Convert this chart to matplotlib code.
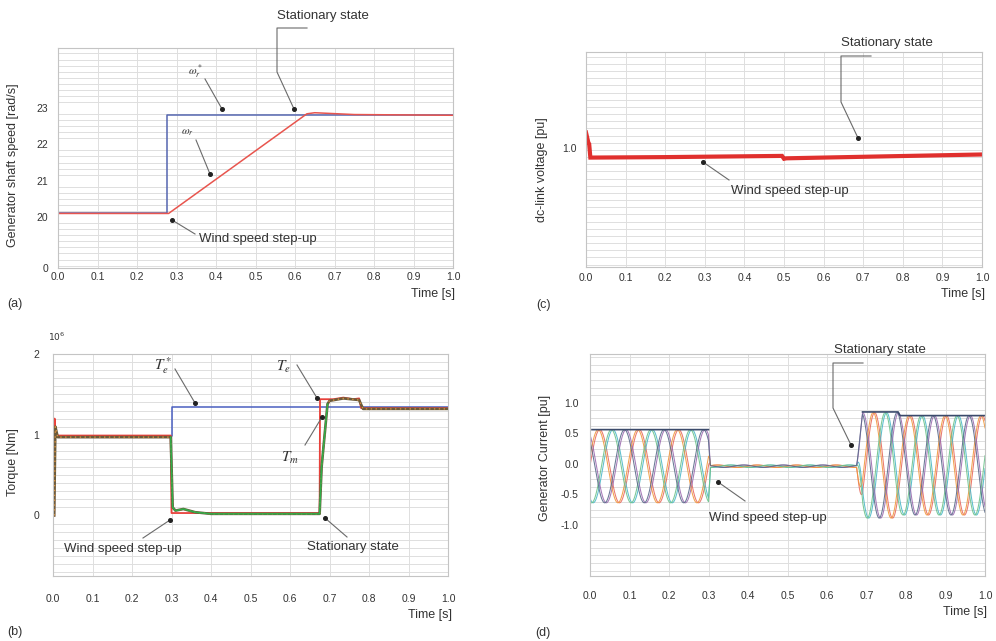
import numpy as np
import matplotlib
matplotlib.use("Agg")
import matplotlib.pyplot as plt
from matplotlib.lines import Line2D
from matplotlib.ticker import MultipleLocator

plt.rcParams['font.family'] = ['Liberation Sans', 'DejaVu Sans']

# ---- (a) generator shaft speed [rad/s]
t_wref = [0.0, 0.277, 0.277, 1.0]
w_ref = [20.1, 20.1, 22.8, 22.8]
t_wr = [0.0, 0.28, 0.63, 0.65, 0.75, 1.0]
w_r = [20.1, 20.1, 22.84, 22.87, 22.82, 22.8]

# ---- (c) dc-link voltage [pu]
t_dc = [0.0, 0.006, 0.008, 0.011, 0.2, 0.495, 0.5, 0.506, 0.75, 1.0]
v_dc = [1.063, 1.02, 1.015, 0.958, 0.96, 0.965, 0.953, 0.955, 0.963, 0.971]

# ---- (b) torque [x10^6 Nm]
t_teref = [0.0, 0.3, 0.3, 1.0]
te_ref = [0.99, 0.99, 1.34, 1.34]
t_te = [0.003, 0.004, 0.006, 0.012, 0.298, 0.300, 0.675, 0.676, 0.71, 0.735, 0.76, 0.775, 0.78, 1.0]
te = [0.0, 1.2, 1.05, 0.99, 0.99, 0.03, 0.03, 1.44, 1.44, 1.46, 1.44, 1.45, 1.33, 1.33]
t_tm = [0.003, 0.006, 0.012, 0.298, 0.303, 0.31, 0.33, 0.36, 0.40, 0.675, 0.68, 0.695, 0.70,
        0.735, 0.775, 0.785, 1.0]
tm = [0.0, 1.1, 0.97, 0.97, 0.1, 0.06, 0.08, 0.04, 0.02, 0.02, 0.6, 1.38, 1.42, 1.45, 1.43,
      1.32, 1.32]

# ---- (d) generator currents [pu]: envelope
t_env = [0.0, 0.3, 0.305, 0.675, 0.69, 0.78, 0.79, 1.0]
amp_env = [0.60, 0.60, 0.02, 0.02, 0.865, 0.865, 0.815, 0.815]
off_env = [-0.04, -0.04, -0.04, -0.04, -0.025, -0.025, -0.025, -0.025]
freq_seg = [10.0, 10.0, 11.0]          # Hz for segments split at t_split
t_split = [0.3, 0.68]
phase_deg = [0, -120, 120, 15, -105, 135]
phase_colors = ['#e86a5e', '#4cb8c8', '#9b6bb0', '#f0983e', '#6cc28a', '#5a6a8a']
t_peak = [0.005, 0.3, np.nan, 0.69, 0.78, 0.785, 1.0]
i_peak = [0.56, 0.56, np.nan, 0.85, 0.85, 0.79, 0.79]

W, H = 996, 641
fig = plt.figure(figsize=(W / 100, H / 100), dpi=100)
TXT = '#333333'
GRID = '#dedede'


def px(x, y):
    return x / W, 1 - y / H


def make_ax(l, t, r, b):
    ax = fig.add_axes([l / W, 1 - b / H, (r - l) / W, (b - t) / H])
    for s in ax.spines.values():
        s.set_color('#c4c4c4')
        s.set_linewidth(0.8)
    ax.set_xlim(0, 1.0)
    ax.set_xticks(np.arange(0, 1.01, 0.1))
    ax.set_xticklabels([f'{v:.1f}' for v in np.arange(0, 1.01, 0.1)])
    ax.tick_params(which='both', length=0, labelsize=7.5, colors=TXT)
    ax.grid(True, which='major', axis='x', color=GRID, lw=0.7)
    ax.grid(True, which='minor', axis='y', color=GRID, lw=0.7)
    ax.set_axisbelow(True)
    return ax


def leader(points):
    xs, ys = zip(*[px(*p) for p in points])
    fig.add_artist(Line2D(xs, ys, color='#6a6a6a', lw=0.8))
    fig.add_artist(Line2D([xs[-1]], [ys[-1]], marker='o', ms=2.6, color='#222222', lw=0))


def label(x, y, s, size=9.5, **kw):
    x, y = px(x, y)
    fig.text(x, y, s, ha='center', va='center', fontsize=size, color=TXT, **kw)


# ----- panel (a)
ax = make_ax(58, 48, 453, 268)
ax.set_ylim(18.6, 24.65)
ax.set_yticks([18.6, 20, 21, 22, 23])
ax.set_yticklabels(['0', '20', '21', '22', '23'])
ax.yaxis.set_minor_locator(MultipleLocator(1 / 6))
ax.tick_params(axis='x', pad=3)
ax.tick_params(axis='y', pad=7)
ax.plot(t_wref, w_ref, color='#5566b0', lw=1.1)
ax.plot(t_wr, w_r, color='#e8554e', lw=1.1)

# ----- panel (c)
ax = make_ax(586, 52, 982, 267)
ax.set_ylim(0.5, 1.4)
ax.set_yticks([1.0])
ax.set_yticklabels(['1.0'])
ax.yaxis.set_minor_locator(MultipleLocator(0.03))
ax.tick_params(axis='x', pad=4)
ax.tick_params(axis='y', pad=7)
ax.plot(t_dc, v_dc, color='#e0302e', lw=3.0, solid_joinstyle='miter')

# ----- panel (b)
ax = make_ax(53, 354, 448, 576)
ax.set_ylim(-0.75, 2.0)
ax.set_yticks([0, 1, 2])
ax.set_yticklabels(['0', '1', '2'])
ax.yaxis.set_minor_locator(MultipleLocator(0.1))
ax.tick_params(axis='x', pad=13)
ax.tick_params(axis='y', pad=10)
ax.plot(t_teref, te_ref, color='#4a5fc0', lw=1.1)
ax.plot(t_te, te, color='#e8403a', lw=1.3)
ax.plot(t_tm, tm, color='#6b5a3a', lw=1.9)
ax.plot(t_tm, tm, color='#d9913e', lw=1.0, ls=(0, (1, 2.5)))
ax.plot(t_tm[3:12], tm[3:12], color='#2fae4a', lw=1.1)

# ----- panel (d)
ax = make_ax(590, 354, 985, 576)
ax.set_ylim(-1.84, 1.80)
ax.set_yticks([-1.0, -0.5, 0.0, 0.5, 1.0])
ax.set_yticklabels(['-1.0', '-0.5', '0.0', '0.5', '1.0'])
ax.yaxis.set_minor_locator(MultipleLocator(0.125))
ax.tick_params(axis='x', pad=11)
ax.tick_params(axis='y', pad=8)
t = np.linspace(0, 1, 4001)
amp = np.interp(t, t_env, amp_env)
off = np.interp(t, t_env, off_env)
f = np.select([t < t_split[0], t < t_split[1]], freq_seg[:2], freq_seg[2])
theta = 2 * np.pi * np.cumsum(f) * (t[1] - t[0])
for ph, c in zip(phase_deg, phase_colors):
    ax.plot(t, off + amp * np.sin(theta + np.radians(ph)), color=c, lw=0.75, alpha=0.9)
ax.plot(t_peak, i_peak, color='#3b4a6b', lw=1.2)

# ----- axis titles and annotations
label(13, 165, 'Generator shaft speed [rad/s]', 9, rotation=90)
label(542, 170, 'dc-link voltage [pu]', 9, rotation=90)
label(13, 462, 'Torque [Nm]', 9, rotation=90)
label(545, 458, 'Generator Current [pu]', 9, rotation=90)
for x, y in [(433, 294), (963, 294), (430, 615), (965, 612)]:
    label(x, y, 'Time [s]', 9)
for x, y, s in [(15, 304, '(a)'), (15, 632, '(b)'), (543, 305, '(c)'), (543, 633, '(d)')]:
    label(x, y, s, 9)
label(57, 337, r'$10^6$', 6.5)

# (a)
label(323, 16, 'Stationary state')
leader([(307, 28), (277, 28), (277, 72), (294, 109)])
label(195, 72, r'$\omega_r^*$', 8, math_fontfamily='stix')
leader([(205, 79), (222, 109)])
label(187, 133, r'$\omega_r$', 8, math_fontfamily='stix')
leader([(196, 140), (210, 174)])
label(258, 239, 'Wind speed step-up')
leader([(195, 234), (172, 220)])

# (c)
label(887, 43, 'Stationary state')
leader([(871, 56), (841, 56), (841, 102), (858, 138)])
label(790, 191, 'Wind speed step-up')
leader([(729, 180), (703, 162)])

# (b)
label(163, 366, r'$T_e^*$', 11, math_fontfamily='stix')
leader([(175, 369), (195, 403)])
label(283, 367, r'$T_e$', 11, math_fontfamily='stix')
leader([(297, 365), (317, 398)])
label(290, 458, r'$T_m$', 11, math_fontfamily='stix')
leader([(305, 445), (322, 417)])
label(123, 549, 'Wind speed step-up')
leader([(143, 538), (170, 520)])
label(353, 547, 'Stationary state')
leader([(347, 537), (325, 518)])

# (d)
label(880, 350, 'Stationary state')
leader([(863, 363), (833, 363), (833, 408), (851, 445)])
label(768, 518, 'Wind speed step-up')
leader([(745, 501), (718, 482)])

fig.savefig('out.png', dpi=100)
